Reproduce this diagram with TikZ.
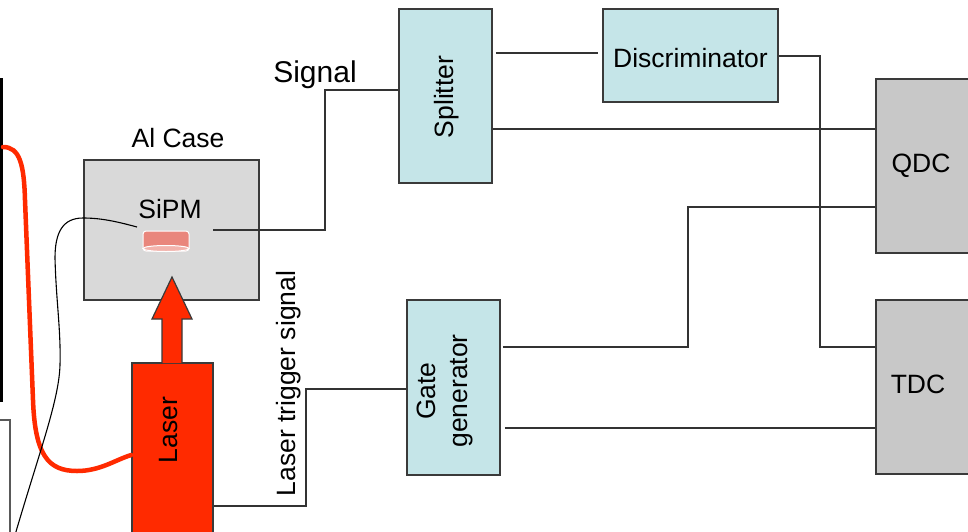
\documentclass[tikz,border=0pt]{standalone}
\usepackage{fontspec}
\setmainfont{Liberation Sans}
\definecolor{modfill}{HTML}{C5E5E8}
\definecolor{adcfill}{HTML}{C8C8C8}
\definecolor{casefill}{HTML}{D9D9D9}
\definecolor{laserred}{HTML}{FF2A00}
\definecolor{sipmred}{HTML}{E9867C}
\definecolor{sipmlight}{HTML}{F2B3AC}
\definecolor{edge}{HTML}{3A3A3A}
\definecolor{wirecol}{HTML}{333333}
\tikzset{
  box/.style={rectangle, draw=edge, line width=1.6pt, inner sep=0pt},
  module/.style={box, fill=modfill},
  adc/.style={box, fill=adcfill},
  wire/.style={draw=wirecol, line width=1.4pt},
  lbl/.style={font=\fontsize{26.5}{32}\selectfont, inner sep=0pt},
}
\begin{document}
\begin{tikzpicture}[x=1pt, y=-1pt]
\clip (0,0) rectangle (968,531);
\fill[white] (0,0) rectangle (968,531);

% edge of the photo strip and frame at the left
\fill[black] (0,78) rectangle (3,402);
\draw[draw=gray!70!black, line width=1.2pt] (0,420) -- (10,420) -- (10,540);

% boxes
\node[box, fill=casefill, minimum width=175pt, minimum height=140pt] (alcase) at (171.5,230) {};
\node[module, minimum width=93pt, minimum height=174pt] (splitter) at (445.5,96) {};
\node[module, minimum width=175pt, minimum height=93pt] (disc) at (690.5,55.5) {};
\node[adc, minimum width=120pt, minimum height=174pt] (qdc) at (936,166) {};
\node[adc, minimum width=120pt, minimum height=174pt] (tdc) at (936,387) {};
\node[module, minimum width=93pt, minimum height=175pt] (gate) at (453.5,387.5) {};
\node[box, fill=laserred, minimum width=81pt, minimum height=200pt] (laser) at (172.5,463) {};

% laser beam arrow
\draw[fill=laserred, draw=edge, line width=1.2pt, line join=miter]
  (162,363) -- (162,319) -- (152,319) -- (172,277) -- (192,319) -- (182,319) -- (182,363);

% SiPM element
\draw[white, line width=1pt, fill=sipmred, rounded corners=3pt] (143,231) rectangle (189,251);
\draw[white, line width=1pt, fill=sipmlight] (166,248.5) ellipse [x radius=23pt, y radius=3pt];

% labels
\node[lbl, anchor=base] (caselbl) at (178,147) {Al Case};
\node[lbl, anchor=base] (sipmlbl) at (170,218) {SiPM};
\node[lbl, anchor=base, font=\fontsize{30}{36}\selectfont] (siglbl) at (315,82) {Signal};
\node[lbl, anchor=base] (disclbl) at (disc.center |- 0,67) {Discriminator};
\node[lbl, anchor=base] (qdclbl) at (921,172) {QDC};
\node[lbl, anchor=base] (tdclbl) at (918,393) {TDC};
\node[lbl, rotate=90] (splitlbl) at (447,97) {Splitter};
\node[lbl, rotate=90] (laserlbl) at (168.5,430) {Laser};
\node[lbl, rotate=90] (triglbl) at (289,383.5) {Laser trigger signal};
\node[lbl, rotate=90, align=center] (gatelbl) at (445,391) {Gate\\generator};

% optical fibre
\draw[laserred, line width=4.5pt, line cap=round]
  (3,147) .. controls (20,147) and (24,165) .. (25,200)
  -- (33,400) .. controls (35,455) and (48,471) .. (77,471)
  .. controls (100,471) and (115,460) .. (laser.west |- 0,455);

% thin cable into the case
\coordinate (cableend) at (137,227);
\coordinate (cablefree) at (15,535);
\draw[black, line width=1.1pt]
  (cableend) .. controls (115,221) and (100,218) .. (83,218)
  .. controls (63,218) and (55,232) .. (55,258)
  .. controls (56,300) and (61,330) .. (60,365)
  .. controls (59,400) and (40,450) .. (cablefree);

% signal cables
\coordinate (sipmout) at (213,230);
\coordinate (sigbend) at (325,90);
\draw[wire] (sipmout) -| (sigbend) -- (sigbend -| splitter.west);

\draw[wire, shorten <=3pt, shorten >=4pt] (splitter.east |- 0,53) -- (disc.west |- 0,53);
\draw[wire] (splitter.east |- 0,129) -- (qdc.west |- 0,129);

\coordinate (discbend) at (820,347);
\draw[wire] (disc.east |- 0,56) -| (discbend) -- (discbend -| tdc.west);

\coordinate (gatebend) at (688,207);
\draw[wire, shorten <=2pt] (gate.east |- 0,347) -| (gatebend) -- (gatebend -| qdc.west);
\draw[wire, shorten <=4pt] (gate.east |- 0,428) -- (tdc.west |- 0,428);

\coordinate (trigbend) at (306,389);
\draw[wire] (laser.east |- 0,506) -| (trigbend) -- (trigbend -| gate.west);
\end{tikzpicture}
\end{document}
